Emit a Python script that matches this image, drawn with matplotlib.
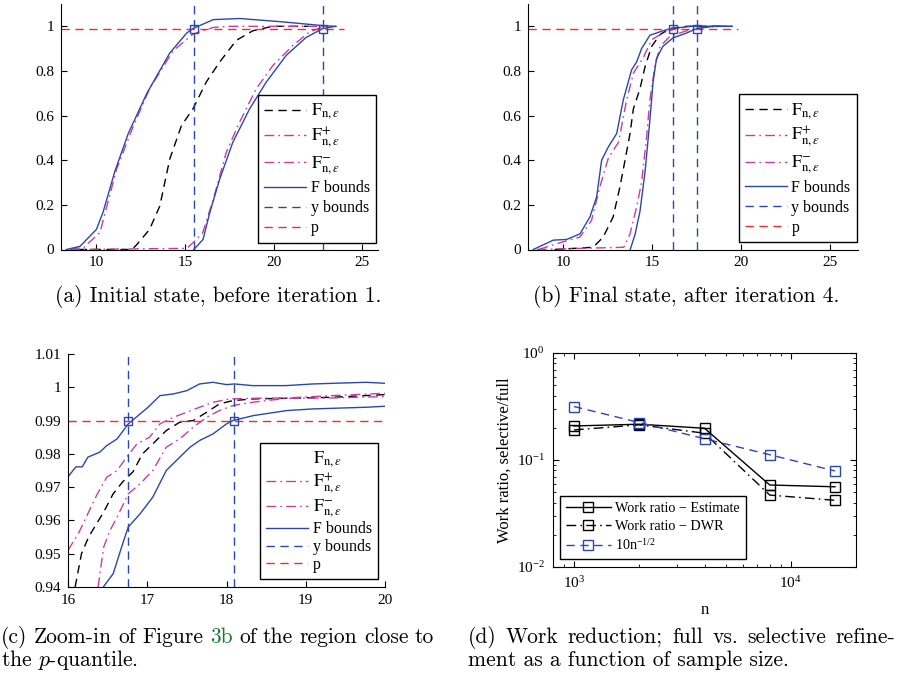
import matplotlib.pyplot as plt
from matplotlib.lines import Line2D
from matplotlib.ticker import FuncFormatter

plt.rcParams['font.family'] = ['Liberation Serif', 'DejaVu Serif']
plt.rcParams['mathtext.fontset'] = 'stix'
plt.rcParams['font.size'] = 11
plt.rcParams['xtick.direction'] = 'in'
plt.rcParams['ytick.direction'] = 'in'

BLUE = '#2b47ad'
MAG = '#c43f9f'
RED = '#f22b2b'
DASH = (0, (6, 4))
DASHDOT = (0, (7, 3, 1.2, 3))

p = 0.99

# (a) initial state
a_F_x = [9.0, 12.0, 12.26, 13.0, 13.58, 14.14, 14.8, 15.45, 16.2, 16.96, 17.9, 18.83, 19.95, 22.0]
a_F_y = [0.0, 0.0, 0.02, 0.09, 0.195, 0.405, 0.555, 0.63, 0.75, 0.84, 0.937, 0.98, 1.0, 1.0]
a_Fp_x = [8.5, 9.3, 10.2, 11.14, 12.07, 13.0, 14.33, 15.45, 16.6, 17.5, 23.0]
a_Fp_y = [0.0, 0.01, 0.076, 0.36, 0.55, 0.72, 0.89, 0.965, 0.995, 1.0, 1.0]
a_Fm_x = [8.5, 15.1, 15.45, 16.0, 16.6, 17.33, 18.08, 19.02, 19.96, 21.09, 22.03, 22.78, 23.3]
a_Fm_y = [0.0, 0.005, 0.03, 0.075, 0.225, 0.435, 0.57, 0.72, 0.824, 0.914, 0.975, 0.997, 1.0]
a_up_x = [8.3, 9.07, 10.0, 10.37, 11.04, 11.8, 12.85, 14.14, 15.1, 15.45, 16.6, 18.1, 20.5, 22.8, 23.5]
a_up_y = [0.0, 0.014, 0.09, 0.166, 0.35, 0.52, 0.70, 0.88, 0.97, 0.99, 1.03, 1.035, 1.02, 1.003, 1.0]
a_lo_x = [15.5, 16.02, 16.4, 16.96, 17.7, 18.65, 19.59, 20.72, 21.84, 22.78, 23.53]
a_lo_y = [0.0, 0.045, 0.165, 0.315, 0.48, 0.63, 0.75, 0.87, 0.95, 0.99, 1.0]
a_ybounds = [15.5, 22.8]
a_p_span = [8.0, 24.0]

# (b) final state
b_F_x = [9.5, 11.68, 12.24, 12.8, 13.18, 13.47, 13.75, 13.94, 14.31, 14.6, 14.97, 15.44, 16.0, 16.94, 19.0]
b_F_y = [0.0, 0.01, 0.056, 0.146, 0.28, 0.40, 0.52, 0.63, 0.72, 0.82, 0.91, 0.963, 0.99, 1.0, 1.0]
b_Fp_x = [8.6, 9.8, 10.93, 11.58, 12.05, 12.53, 13.1, 13.56, 13.94, 14.5, 14.97, 15.6, 16.35, 17.2, 19.3]
b_Fp_y = [0.0, 0.03, 0.056, 0.13, 0.28, 0.41, 0.48, 0.67, 0.79, 0.86, 0.94, 0.97, 0.99, 1.0, 1.0]
b_Fm_x = [8.5, 13.4, 13.75, 14.12, 14.4, 14.68, 14.87, 15.15, 15.44, 16.0, 16.94, 17.88, 18.8, 19.4]
b_Fm_y = [0.0, 0.01, 0.07, 0.19, 0.30, 0.50, 0.67, 0.82, 0.91, 0.955, 0.98, 0.995, 1.0, 1.0]
b_up_x = [8.3, 9.43, 10.18, 10.93, 11.49, 11.87, 12.15, 12.53, 13.0, 13.37, 13.84, 14.12, 14.4, 14.87, 15.24, 15.6, 16.08, 17.2, 19.5]
b_up_y = [0.0, 0.042, 0.045, 0.07, 0.146, 0.236, 0.40, 0.46, 0.52, 0.67, 0.805, 0.84, 0.90, 0.96, 0.97, 0.98, 0.99, 1.0, 1.0]
b_lo_x = [13.76, 14.03, 14.31, 14.6, 14.87, 15.05, 15.24, 15.6, 16.17, 16.94, 17.5, 18.45, 19.5]
b_lo_y = [0.0, 0.066, 0.17, 0.35, 0.58, 0.75, 0.855, 0.91, 0.948, 0.97, 0.99, 1.0, 1.0]
b_ybounds = [16.15, 17.55]
b_p_span = [8.0, 19.85]

# (c) zoom-in of (b)
c_F_x = [16.09, 16.17, 16.26, 16.36, 16.45, 16.57, 16.69, 16.82, 16.94, 17.07, 17.24, 17.41, 17.58, 17.75, 17.91, 18.08, 18.33, 18.76, 19.34, 20.0]
c_F_y = [0.94, 0.95, 0.955, 0.959, 0.9625, 0.968, 0.9716, 0.9746, 0.980, 0.983, 0.987, 0.9895, 0.990, 0.9925, 0.995, 0.996, 0.9965, 0.9967, 0.997, 0.9978]
c_Fp_x = [16.0, 16.13, 16.25, 16.36, 16.49, 16.62, 16.74, 16.87, 17.03, 17.16, 17.33, 17.5, 17.66, 17.83, 18.04, 18.33, 18.76, 19.34, 20.0]
c_Fp_y = [0.951, 0.956, 0.962, 0.9675, 0.973, 0.975, 0.979, 0.983, 0.985, 0.989, 0.991, 0.9925, 0.994, 0.9955, 0.9965, 0.9967, 0.9968, 0.9975, 0.9982]
c_Fm_x = [16.38, 16.45, 16.53, 16.62, 16.76, 16.91, 17.07, 17.24, 17.41, 17.58, 17.75, 17.91, 18.08, 18.33, 18.76, 19.34, 20.0]
c_Fm_y = [0.94, 0.952, 0.957, 0.961, 0.968, 0.971, 0.975, 0.982, 0.9845, 0.988, 0.991, 0.993, 0.9945, 0.9955, 0.9967, 0.9968, 0.9972]
c_up_x = [16.0, 16.1, 16.18, 16.25, 16.4, 16.49, 16.62, 16.76, 16.91, 17.01, 17.16, 17.33, 17.5, 17.66, 17.83, 18.0, 18.1, 18.33, 18.75, 19.09, 19.76, 20.0]
c_up_y = [0.9731, 0.9761, 0.9761, 0.979, 0.9805, 0.9825, 0.9845, 0.989, 0.992, 0.994, 0.9975, 0.998, 0.999, 1.001, 1.0015, 1.0008, 1.001, 1.0005, 1.0005, 1.001, 1.0015, 1.0012]
c_lo_x = [16.445, 16.57, 16.69, 16.76, 16.91, 17.07, 17.24, 17.41, 17.54, 17.66, 17.83, 18.0, 18.08, 18.34, 18.76, 19.09, 19.76, 20.0]
c_lo_y = [0.94, 0.944, 0.953, 0.958, 0.962, 0.967, 0.975, 0.979, 0.982, 0.984, 0.986, 0.989, 0.990, 0.9915, 0.993, 0.9935, 0.994, 0.9943]
c_ybounds = [16.76, 18.09]
c_p_span = [16.0, 20.0]

# (d) work reduction
n = [1000, 2000, 4000, 8000, 16000]
ratio_estimate = [0.208, 0.216, 0.198, 0.0584, 0.0562]
ratio_dwr = [0.191, 0.213, 0.178, 0.047, 0.042]
ref_rate = [0.316, 0.224, 0.158, 0.112, 0.079]

lab_F = r'$\mathrm{F}_{\mathrm{n,}\varepsilon}$'
lab_Fp = r'$\mathrm{F}^{+}_{\mathrm{n,}\varepsilon}$'
lab_Fm = r'$\mathrm{F}^{-}_{\mathrm{n,}\varepsilon}$'

fig = plt.figure(figsize=(9, 6.73), dpi=100)


def px_axes(left, top, right, bottom):
    return fig.add_axes([left / 900, 1 - bottom / 673, (right - left) / 900, (bottom - top) / 673])


gfmt = FuncFormatter(lambda v, pos: '%g' % round(v, 4))


def cdf_panel(ax, F, Fp, Fm, up, lo, ybounds, p_span, blank_first=False):
    hF, = ax.plot(F[0], F[1], color='k', ls=DASH, lw=1)
    hFp, = ax.plot(Fp[0], Fp[1], color=MAG, ls=DASHDOT, lw=1)
    hFm, = ax.plot(Fm[0], Fm[1], color=MAG, ls=DASHDOT, lw=1)
    hB, = ax.plot(up[0], up[1], color=BLUE, lw=1)
    ax.plot(lo[0], lo[1], color=BLUE, lw=1)
    hY = None
    for yb in ybounds:
        hY = ax.axvline(yb, color=BLUE, ls=DASH, lw=1)
    hP, = ax.plot(p_span, [p, p], color=RED, ls=DASH, lw=1)
    ax.plot(ybounds, [p, p], ls='none', marker='s', ms=6, mfc='none', mec=BLUE, mew=1)
    for s in ('top', 'right'):
        ax.spines[s].set_visible(False)
    ax.xaxis.set_major_formatter(gfmt)
    ax.yaxis.set_major_formatter(gfmt)
    ax.tick_params(length=4, width=0.8, labelsize=11, pad=5)
    if blank_first:
        hF = Line2D([], [], ls='none')
    return [hF, hFp, hFm, hB, hY, hP], [lab_F, lab_Fp, lab_Fm, 'F bounds', 'y bounds', 'p']


def panel_legend(ax, handles, labels, anchor, spacing=0.25):
    leg = ax.legend(handles, labels, loc='lower right', bbox_to_anchor=anchor, borderaxespad=0,
                    fancybox=False, framealpha=1, edgecolor='k', fontsize=11.5,
                    handlelength=2.6, handletextpad=0.3, labelspacing=spacing, borderpad=0.4)
    leg.get_frame().set_linewidth(1.0)
    for i, t in enumerate(leg.get_texts()):
        t.set_ha('left')
        if i < 3:
            t.set_fontsize(13)
    return leg


# panel (a)
ax_a = px_axes(61, 4, 378, 249.5)
h, l = cdf_panel(ax_a, (a_F_x, a_F_y), (a_Fp_x, a_Fp_y), (a_Fm_x, a_Fm_y),
                 (a_up_x, a_up_y), (a_lo_x, a_lo_y), a_ybounds, a_p_span)
ax_a.set_xlim(8, 25.9)
ax_a.set_ylim(0, 1.1)
ax_a.set_xticks([10, 15, 20, 25])
ax_a.set_yticks([0, 0.2, 0.4, 0.6, 0.8, 1])
panel_legend(ax_a, h, l, (0.994, 0.027))

# panel (b)
ax_b = px_axes(528, 4, 858, 249.5)
h, l = cdf_panel(ax_b, (b_F_x, b_F_y), (b_Fp_x, b_Fp_y), (b_Fm_x, b_Fm_y),
                 (b_up_x, b_up_y), (b_lo_x, b_lo_y), b_ybounds, b_p_span)
ax_b.set_xlim(8, 26.6)
ax_b.set_ylim(0, 1.1)
ax_b.set_xticks([10, 15, 20, 25])
ax_b.set_yticks([0, 0.2, 0.4, 0.6, 0.8, 1])
panel_legend(ax_b, h, l, (0.997, 0.03))

# panel (c)
ax_c = px_axes(68, 354, 385, 587)
h, l = cdf_panel(ax_c, (c_F_x, c_F_y), (c_Fp_x, c_Fp_y), (c_Fm_x, c_Fm_y),
                 (c_up_x, c_up_y), (c_lo_x, c_lo_y), c_ybounds, c_p_span, blank_first=True)
ax_c.set_xlim(16, 20)
ax_c.set_ylim(0.94, 1.01)
ax_c.set_xticks([16, 17, 18, 19, 20])
ax_c.set_yticks([0.94, 0.95, 0.96, 0.97, 0.98, 0.99, 1.0, 1.01])
panel_legend(ax_c, h, l, (0.978, 0.034), spacing=0.1)

# panel (d)
ax_d = px_axes(553, 353, 856, 567)
ax_d.loglog(n, ratio_estimate, color='k', lw=1, marker='s', ms=7, mfc='none', mew=1,
            label='Work ratio \u2212 Estimate')
ax_d.loglog(n, ratio_dwr, color='k', lw=1, ls=DASHDOT, marker='s', ms=7, mfc='none', mew=1,
            label='Work ratio \u2212 DWR')
ax_d.loglog(n, ref_rate, color=BLUE, lw=1, ls=DASH, marker='s', ms=7, mfc='none', mew=1,
            label=r'10n$^{\mathregular{-1/2}}$')
ax_d.set_xlim(800, 20000)
ax_d.set_ylim(1e-2, 1)
ax_d.tick_params(which='both', top=True, right=True, labelsize=11, pad=6)
ax_d.tick_params(which='major', length=4)
ax_d.tick_params(which='minor', length=2.5)
ax_d.set_xlabel('n', fontsize=12, labelpad=8)
ax_d.set_ylabel('Work ratio, selective/full', fontsize=12, labelpad=3)
leg = ax_d.legend(loc='lower left', bbox_to_anchor=(0.023, 0.037), borderaxespad=0,
                  fancybox=False, framealpha=1, edgecolor='k', fontsize=10.2,
                  handlelength=3.2, handletextpad=0.3, labelspacing=0.35, borderpad=0.4)
leg.get_frame().set_linewidth(1.0)

# captions
CAP_FS = 15.5
renderer = fig.canvas.get_renderer()


def cap_text(x, y, s, color='k', ha='left'):
    return fig.text(x / 900, 1 - y / 673, s, color=color, ha=ha, va='baseline',
                    fontsize=CAP_FS, fontfamily='cmr10', math_fontfamily='cm')


def justified(words, x0, x1, y):
    texts = [cap_text(0, y, w, c) for w, c in words]
    widths = [t.get_window_extent(renderer).width for t in texts]
    gap = (x1 - x0 - sum(widths)) / (len(words) - 1)
    x = x0
    for t, w in zip(texts, widths):
        t.set_x(x / 900)
        x += w + gap


cap_text(218, 302, '(a) Initial state, before iteration 1.', ha='center')
cap_text(686, 302, '(b) Final state, after iteration 4.', ha='center')

green = '#1a7a2a'
words_c = [(w, 'k') for w in '(c) Zoom-in of Figure'.split()] + [('3b', green)] + \
          [(w, 'k') for w in 'of the region close to'.split()]
justified(words_c, 1, 434, 643)
cap_text(1, 666, 'the $p$-quantile.')

words_d = [(w, 'k') for w in '(d) Work reduction; full vs. selective refine-'.split()]
justified(words_d, 468, 895, 643)
cap_text(468, 666, 'ment as a function of sample size.')

fig.savefig('out.png', dpi=100)
